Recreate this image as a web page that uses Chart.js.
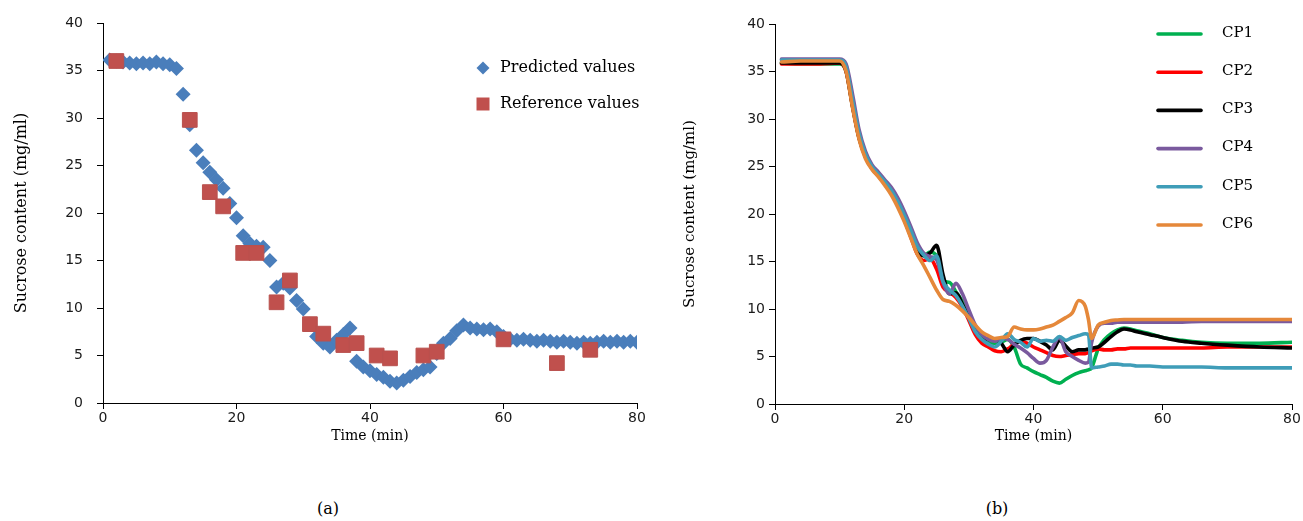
<!DOCTYPE html>
<html>
<head>
<meta charset="utf-8">
<title>Sucrose content over time</title>
<script src="https://cdn.jsdelivr.net/npm/chart.js@4.4.1/dist/chart.umd.min.js"></script>
<style>
  html, body { margin: 0; padding: 0; background: #fff; }
  body { width: 1303px; height: 521px; position: relative; overflow: hidden; }
  .panel { position: absolute; top: 0; }
  .cap { position: absolute; top: 499px; font-family: "DejaVu Serif", serif; font-size: 16px;
         color: #000; transform: translateX(-50%); }
</style>
</head>
<body>
<div class="panel" style="left:0"><canvas id="chartA" width="650" height="470" style="width:650px;height:470px"></canvas></div>
<div class="panel" style="left:650px"><canvas id="chartB" width="653" height="470" style="width:653px;height:470px"></canvas></div>
<div class="cap" style="left:328px">(a)</div>
<div class="cap" style="left:997px">(b)</div>
<script>
// ---- Panel (a): predicted vs reference sucrose content ----
const predTime = [1, 2, 3, 4, 5, 6, 7, 8, 9, 10, 11, 12, 13, 14, 15, 16, 17, 18, 19, 20,
  21, 22, 23, 24, 25, 26, 27, 28, 29, 30, 31, 32, 33, 34, 35, 36, 37, 38, 39, 40,
  41, 42, 43, 44, 45, 46, 47, 48, 49, 50, 51, 52, 53, 54, 55, 56, 57, 58, 59, 60,
  61, 62, 63, 64, 65, 66, 67, 68, 69, 70, 71, 72, 73, 74, 75, 76, 77, 78, 79, 80];
const predValues = [36.1, 36.0, 35.9, 35.8, 35.7, 35.8, 35.7, 35.9, 35.7, 35.6,
  35.2, 32.5, 29.3, 26.6, 25.3, 24.3, 23.5, 22.6, 21.0, 19.5,
  17.6, 16.8, 16.5, 16.4, 15.0, 12.2, 12.6, 12.1, 10.8, 9.9,
  8.3, 7.0, 6.3, 5.9, 6.6, 7.2, 7.9, 4.4, 3.8, 3.4,
  3.0, 2.7, 2.3, 2.1, 2.4, 2.8, 3.2, 3.5, 3.8, 5.2,
  6.3, 6.8, 7.6, 8.2, 7.9, 7.8, 7.7, 7.8, 7.5, 7.0,
  6.7, 6.6, 6.7, 6.6, 6.5, 6.6, 6.5, 6.4, 6.5, 6.4,
  6.3, 6.4, 6.3, 6.4, 6.5, 6.4, 6.5, 6.4, 6.5, 6.4];
const refTime = [2, 13, 16, 18, 21, 23, 26, 28, 31, 33, 36, 38, 41, 43, 48, 50, 60, 68, 73];
const refValues = [36.0, 29.8, 22.2, 20.7, 15.8, 15.8, 10.6, 12.9, 8.3, 7.3, 6.1, 6.3, 5.0, 4.7, 5.0, 5.4, 6.7, 4.2, 5.6];

// ---- Panel (b): sucrose content at six control points ----
const cpTime = [1, 4, 7, 10, 11, 12, 13, 14, 15, 16, 17, 18, 19, 20, 21, 22, 23, 24, 25, 26,
  27, 28, 29, 30, 31, 32, 33, 34, 35, 36, 37, 38, 39, 40, 41, 42, 43, 44, 45, 46,
  47, 48, 48.5, 49, 50, 51, 52, 53, 54, 55, 56, 58, 60, 63, 66, 70, 75, 80];
const cp1 = [35.9, 35.8, 35.8, 35.8, 35.0, 31.3, 28.0, 26.0, 24.8, 24.0, 23.2, 22.3, 21.0, 19.5, 17.9, 16.2, 15.6, 16.0, 15.6, 13.0,
  12.8, 11.8, 10.8, 9.4, 8.0, 7.0, 6.5, 6.4, 6.5, 6.8, 6.0, 4.2, 3.8, 3.4, 3.1, 2.8, 2.4, 2.2, 2.6, 3.0,
  3.3, 3.5, 3.6, 3.8, 5.8, 6.8, 7.4, 7.8, 8.0, 7.9, 7.7, 7.4, 7.0, 6.7, 6.5, 6.4, 6.4, 6.5];
const cp2 = [35.8, 35.8, 35.8, 35.9, 35.0, 31.3, 28.0, 26.0, 24.8, 24.0, 23.2, 22.2, 20.9, 19.4, 17.6, 15.8, 15.1, 15.3, 14.2, 12.3,
  11.8, 11.2, 10.2, 8.8, 7.3, 6.4, 6.0, 5.6, 5.5, 5.8, 6.3, 6.6, 6.4, 6.0, 5.7, 5.4, 5.1, 5.0, 5.1, 5.2,
  5.3, 5.3, 5.4, 5.6, 5.8, 5.7, 5.7, 5.8, 5.8, 5.9, 5.9, 5.9, 5.9, 5.9, 5.9, 6.0, 6.0, 6.0];
const cp3 = [35.9, 35.9, 35.9, 35.9, 35.1, 31.4, 28.1, 26.1, 24.9, 24.1, 23.3, 22.4, 21.1, 19.6, 18.0, 16.3, 15.6, 15.9, 16.7, 13.6,
  11.6, 11.7, 10.5, 9.2, 7.8, 7.0, 6.8, 6.8, 6.4, 5.5, 6.2, 6.7, 6.9, 6.9, 6.6, 6.2, 5.7, 6.7, 6.1, 5.5,
  5.7, 5.7, 5.8, 5.9, 6.0, 6.5, 7.1, 7.6, 7.9, 7.8, 7.6, 7.3, 7.0, 6.6, 6.4, 6.2, 6.0, 5.9];
const cp4 = [36.3, 36.3, 36.3, 36.3, 35.8, 32.6, 28.9, 26.6, 25.2, 24.4, 23.6, 22.8, 21.7, 20.3, 18.7, 17.0, 15.9, 15.5, 15.2, 12.8,
  11.6, 12.7, 11.6, 9.9, 8.3, 7.3, 6.8, 6.6, 6.9, 6.8, 6.3, 5.9, 5.4, 4.8, 4.3, 4.6, 6.0, 7.0, 5.5, 5.0,
  4.6, 4.3, 4.4, 6.5, 8.2, 8.5, 8.5, 8.6, 8.6, 8.6, 8.6, 8.6, 8.6, 8.6, 8.7, 8.7, 8.7, 8.7];
const cp5 = [36.2, 36.2, 36.2, 36.2, 35.5, 32.0, 28.5, 26.3, 25.0, 24.2, 23.4, 22.5, 21.3, 19.9, 18.3, 16.6, 15.7, 15.1, 15.6, 12.9,
  12.0, 11.4, 10.3, 9.0, 7.6, 6.8, 6.3, 6.0, 6.6, 7.4, 6.8, 6.5, 6.0, 6.9, 6.6, 6.7, 6.6, 7.1, 6.7, 7.0,
  7.2, 7.4, 7.3, 3.8, 3.9, 4.0, 4.2, 4.2, 4.1, 4.1, 4.0, 4.0, 3.9, 3.9, 3.9, 3.8, 3.8, 3.8];
const cp6 = [36.0, 36.1, 36.1, 36.1, 35.0, 31.2, 27.9, 25.8, 24.7, 23.9, 23.0, 22.0, 20.7, 19.2, 17.5, 15.8, 14.6, 13.3, 12.0, 11.0,
  10.8, 10.4, 9.8, 9.1, 8.3, 7.6, 7.2, 6.9, 7.0, 7.1, 8.1, 7.9, 7.8, 7.8, 7.9, 8.1, 8.3, 8.7, 9.1, 9.6,
  10.9, 10.3, 8.9, 6.9, 8.3, 8.6, 8.8, 8.85, 8.9, 8.9, 8.9, 8.9, 8.9, 8.9, 8.9, 8.9, 8.9, 8.9];
const cpLabels = ['CP1', 'CP2', 'CP3', 'CP4', 'CP5', 'CP6'];
const cpSeries = [cp1, cp2, cp3, cp4, cp5, cp6];
const cpColors = ['#00B050', '#FF0000', '#000000', '#7A5A9E', '#3F9DB8', '#E5883A'];

const xTicks = [0, 20, 40, 60, 80];
const yTicks = [0, 5, 10, 15, 20, 25, 30, 35, 40];

const tickFont = { family: 'DejaVu Sans', size: 14 };
const serif = 'DejaVu Serif';

// Draws the in-plot key for each panel from the datasets themselves.
const keyPlugin = {
  id: 'key',
  afterDatasetsDraw(chart, args, opts) {
    if (!opts || !opts.mode) return;
    const ctx = chart.ctx;
    ctx.save();
    ctx.font = opts.fontSize + 'px "' + serif + '"';
    ctx.textBaseline = 'middle';
    ctx.textAlign = 'left';
    chart.data.datasets.forEach((ds, i) => {
      const y = opts.y + i * opts.step;
      if (opts.mode === 'marker') {
        ctx.fillStyle = ds.backgroundColor;
        ctx.beginPath();
        if (ds.pointStyle === 'rectRot') {
          const r = opts.markerSize;
          ctx.moveTo(opts.x - r, y); ctx.lineTo(opts.x, y - r);
          ctx.lineTo(opts.x + r, y); ctx.lineTo(opts.x, y + r);
        } else {
          const h = opts.markerSize;
          ctx.rect(opts.x - h, y - h, 2 * h, 2 * h);
        }
        ctx.closePath();
        ctx.fill();
      } else {
        ctx.strokeStyle = ds.borderColor;
        ctx.lineWidth = ds.borderWidth;
        ctx.lineCap = 'round';
        ctx.beginPath();
        ctx.moveTo(opts.x, y);
        ctx.lineTo(opts.x + opts.lineLen, y);
        ctx.stroke();
      }
      ctx.fillStyle = '#000';
      ctx.fillText(ds.label, opts.textX, y + opts.textDy);
    });
    ctx.restore();
  }
};

function axes(cfg) {
  const grid = { display: true, drawOnChartArea: false, drawTicks: true, tickLength: 6,
                 tickColor: '#000', color: '#000', lineWidth: 1 };
  return {
    x: {
      type: 'linear', min: 0, max: 80,
      afterBuildTicks: s => { s.ticks = xTicks.map(v => ({ value: v })); },
      afterFit: s => { s.height = cfg.xHeight; },
      ticks: { font: tickFont, color: '#1a1a1a', padding: 1, maxRotation: 0 },
      grid: grid,
      border: { display: true, color: '#000', width: 1 },
      title: { display: true, text: 'Time (min)', color: '#000',
               font: { family: serif, size: cfg.xTitleSize }, padding: { top: 0, bottom: cfg.xTitlePad } }
    },
    y: {
      type: 'linear', min: 0, max: 40,
      afterBuildTicks: s => { s.ticks = yTicks.map(v => ({ value: v })); },
      afterFit: s => { s.width = cfg.yWidth; },
      ticks: { font: tickFont, color: '#1a1a1a', padding: cfg.yTickPad },
      grid: grid,
      border: { display: true, color: '#000', width: 1 },
      title: { display: true, text: 'Sucrose content (mg/ml)', color: '#000',
               font: { family: serif, size: cfg.yTitleSize }, padding: { top: cfg.yTitlePad, bottom: 0 } }
    }
  };
}

new Chart(document.getElementById('chartA'), {
  type: 'scatter',
  data: {
    datasets: [
      { label: 'Predicted values', data: predTime.map((t, i) => ({ x: t, y: predValues[i] })),
        pointStyle: 'rectRot', pointRadius: 7.5, borderWidth: 0, pointBorderWidth: 0,
        backgroundColor: '#4A7EBB', borderColor: '#4A7EBB', order: 1 },
      { label: 'Reference values', data: refTime.map((t, i) => ({ x: t, y: refValues[i] })),
        pointStyle: 'rect', pointRadius: 10.4, pointBorderWidth: 1,
        backgroundColor: '#C0504D', borderColor: '#B9514E', order: 0 }
    ]
  },
  options: {
    responsive: false, animation: false, events: [],
    layout: { padding: { left: 0, top: 23, right: 13, bottom: 0 } },
    scales: axes({ xHeight: 67, xTitleSize: 14, xTitlePad: 25, yWidth: 103, yTickPad: 14, yTitleSize: 16, yTitlePad: 12 }),
    plugins: {
      legend: { display: false }, tooltip: { enabled: false },
      key: { mode: 'marker', x: 483, y: 68, step: 36, markerSize: 6.5, textX: 500, textDy: 0, fontSize: 16 }
    }
  },
  plugins: [keyPlugin]
});

new Chart(document.getElementById('chartB'), {
  type: 'line',
  data: {
    datasets: cpSeries.map((vals, k) => ({
      label: cpLabels[k],
      data: cpTime.map((t, i) => ({ x: t, y: vals[i] })),
      borderColor: cpColors[k], backgroundColor: cpColors[k],
      borderWidth: 3.6, pointRadius: 0, fill: false,
      cubicInterpolationMode: 'monotone', borderJoinStyle: 'round', borderCapStyle: 'round',
      order: 5 - k
    }))
  },
  options: {
    responsive: false, animation: false, events: [],
    layout: { padding: { left: 0, top: 24, right: 11, bottom: 0 } },
    scales: axes({ xHeight: 66, xTitleSize: 14, xTitlePad: 25, yWidth: 125, yTickPad: 4, yTitleSize: 15, yTitlePad: 31 }),
    plugins: {
      legend: { display: false }, tooltip: { enabled: false },
      key: { mode: 'line', x: 508, y: 34, step: 38.2, lineLen: 43, textX: 572, textDy: -1, fontSize: 15 }
    }
  },
  plugins: [keyPlugin]
});
</script>
</body>
</html>
